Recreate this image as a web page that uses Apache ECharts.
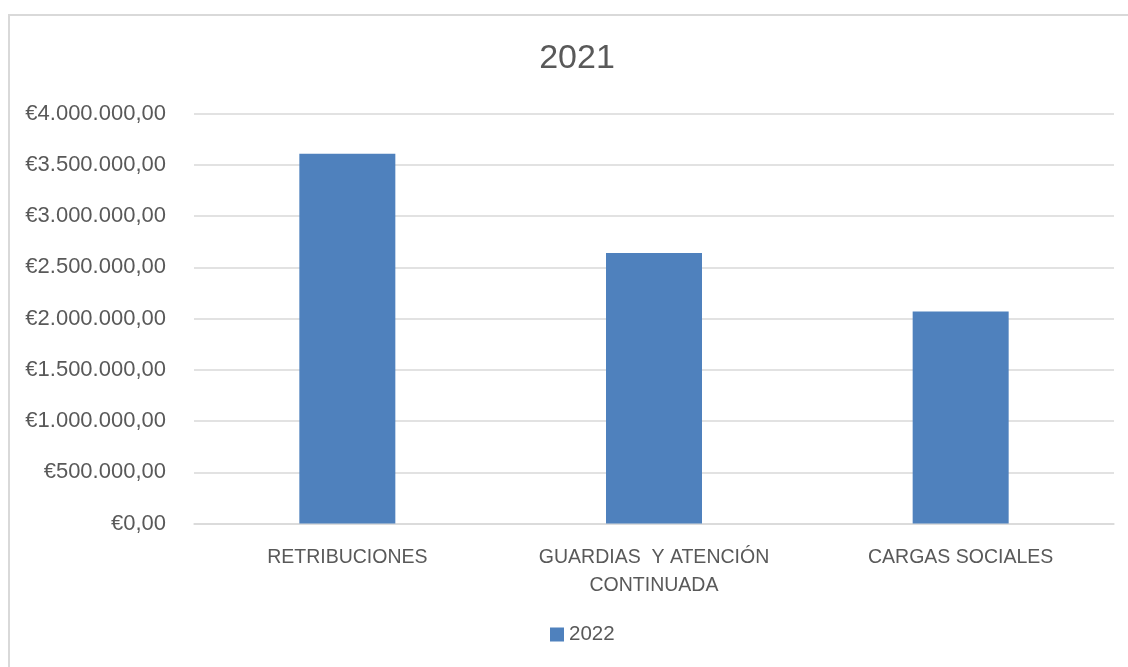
<!DOCTYPE html>
<html>
<head>
<meta charset="utf-8">
<script src="https://cdn.jsdelivr.net/npm/echarts@6/dist/echarts.min.js"></script>
<style>
html,body{margin:0;padding:0;background:#fff;}
#c{width:1128px;height:667px;}
</style>
</head>
<body>
<div id="c"></div>
<script>
const titleText = '2021';
const seriesName = '2022';
const categories = ['RETRIBUCIONES', 'GUARDIAS  Y ATENCIÓN\nCONTINUADA', 'CARGAS SOCIALES'];
const values = [3608000, 2639000, 2068000];
const yMin = 0, yMax = 4000000, yStep = 500000;

function fmtEuro(v) {
  const s = Math.round(v).toString().replace(/\B(?=(\d{3})+(?!\d))/g, '.');
  return '€' + s + ',00';
}

const chart = echarts.init(document.getElementById('c'));
const font = '"Liberation Sans", Arial, sans-serif';
chart.setOption({
  animation: false,
  backgroundColor: '#fff',
  textStyle: { fontFamily: font },
  graphic: [{
    type: 'rect',
    shape: { x: 9, y: 15, width: 1130, height: 660 },
    style: { fill: 'none', stroke: '#d9d9d9', lineWidth: 2 },
    silent: true
  }],
  title: {
    text: titleText,
    left: 572, textAlign: 'center', top: 37,
    textStyle: { fontSize: 34, fontWeight: 'normal', color: '#595959', fontFamily: font }
  },
  legend: {
    data: [seriesName],
    bottom: 17, left: 545,
    itemWidth: 14, itemHeight: 14, itemGap: 6,
    icon: 'rect',
    textStyle: { fontSize: 20.5, color: '#595959', fontFamily: font }
  },
  grid: { left: 194, right: 14, top: 113.5, bottom: 143.5, containLabel: false },
  xAxis: {
    type: 'category',
    data: categories,
    axisLine: { lineStyle: { color: '#d9d9d9', width: 1.5 } },
    axisTick: { show: false },
    axisLabel: { fontSize: 19.5, color: '#595959', margin: 20, lineHeight: 28, interval: 0, fontFamily: font }
  },
  yAxis: {
    type: 'value',
    min: yMin, max: yMax, interval: yStep,
    axisLine: { show: false },
    axisTick: { show: false },
    splitLine: { lineStyle: { color: '#d9d9d9', width: 1.5 } },
    axisLabel: { fontSize: 22, color: '#595959', margin: 28, formatter: fmtEuro, fontFamily: font }
  },
  series: [{
    name: seriesName,
    type: 'bar',
    data: values,
    barWidth: 96,
    itemStyle: { color: '#4F81BD' }
  }]
});
</script>
</body>
</html>
